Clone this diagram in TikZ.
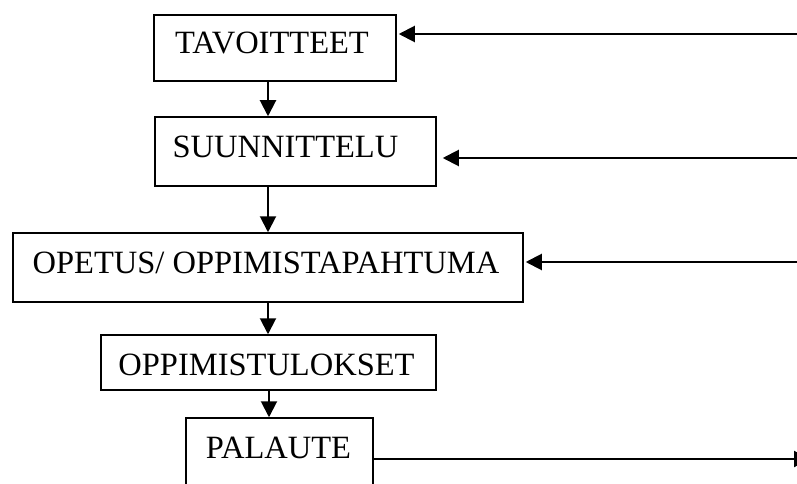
\documentclass[tikz,border=0pt]{standalone}
\usepackage{fontspec}
\setmainfont{Liberation Serif}
\usetikzlibrary{arrows.meta}
\begin{document}
\begin{tikzpicture}[x=1pt,y=-1pt,
  box/.style={draw,line width=1.5pt,inner sep=0pt,rectangle},
  lbl/.style={inner sep=0pt,anchor=base,font=\fontsize{32.5}{36}\selectfont},
  arr/.style={line width=2pt,-{Triangle[length=16pt,width=16pt]}}]
\useasboundingbox (0,0) rectangle (797,484);
\clip (0,0) rectangle (797,484);
\fill[white] (0,0) rectangle (797,484);
% boxes
\node[box,minimum width=242pt,minimum height=66pt] (b1) at (275,48) {};
\node[box,minimum width=281pt,minimum height=69pt] (b2) at (295.5,151.5) {};
\node[box,minimum width=510pt,minimum height=69pt] (b3) at (268,267.5) {};
\node[box,minimum width=335pt,minimum height=55pt] (b4) at (268.5,362.5) {};
\node[box,minimum width=187pt,minimum height=92pt] (b5) at (279.5,464) {};
% labels
\node[lbl] (t1) at (272,54) {TAVOITTEET};
\node[lbl] (t2) at (285.5,157) {SUUNNITTELU};
\node[lbl] (t3) at (266,273) {OPETUS/ OPPIMISTAPAHTUMA};
\node[lbl] (t4) at (266.5,375) {OPPIMISTULOKSET};
\node[lbl] (t5) at (278.5,458) {PALAUTE};
% vertical connectors
\coordinate (ax) at (268,0);
\coordinate (ax2) at (269,0);
\draw[arr] (b1.south -| ax) -- (b2.north -| ax);
\draw[arr] (b2.south -| ax) -- (b3.north -| ax);
\draw[arr] (b3.south -| ax) -- (b4.north -| ax);
\draw[arr] (b4.south -| ax2) -- (b5.north -| ax2);
% feedback lines
\coordinate (r1) at (800,34);
\coordinate (r2) at (800,158);
\coordinate (r3) at (800,262);
\coordinate (r5) at (810,459);
\draw[arr,shorten >=2pt] (r1) -- (b1.east |- r1);
\draw[arr,shorten >=6pt] (r2) -- (b2.east |- r2);
\draw[arr,shorten >=2pt] (r3) -- (b3.east |- r3);
\draw[arr] (b5.east |- r5) -- (r5);
\end{tikzpicture}
\end{document}
